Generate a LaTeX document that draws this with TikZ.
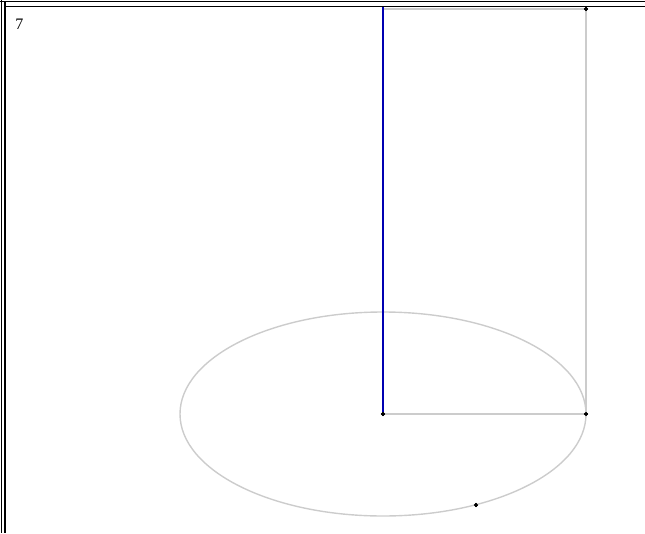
\documentclass[tikz,border=0pt]{standalone}
\usepackage{tikz}
\usepackage{fontspec}
\setmainfont{Liberation Serif}

\begin{document}
\begin{tikzpicture}[
	x=1pt,y=-1pt,
	closedpt/.style={circle,draw,fill,inner sep=0pt,minimum size=3.5pt},
	guide/.style={draw=black!20,line width=1.4pt}
]
	\useasboundingbox (0,0) rectangle (645,533);

	% frame
	\draw[line width=1.2pt] (1.2,0) -- (1.2,533);
	\draw[line width=1.2pt] (5,1.2) -- (5,533);
	\draw[line width=1.2pt] (0,1.2) -- (645,1.2);
	\draw[line width=1.2pt] (5,6.5) -- (645,6.5);

	\node[font=\fontsize{16}{18}\selectfont] at (19.5,24.5) (num) {7};

	\coordinate (top) at (383,7);
	\node[closedpt] at (383,414) (c) {};
	\node[closedpt] at (586,414) (r) {};
	\node[closedpt] at (586,9) (tr) {};
	\node[closedpt] at (476,505) (p) {};
	\coordinate (tl) at (383,9);

	\draw[guide] (383,414) ellipse (203 and 102);
	\draw[guide] (c) -- (r) -- (tr) -- (tl);
	\draw[blue!70!black,line width=1.5pt] (c) -- (top);

	\node[closedpt] at (c) {};
	\node[closedpt] at (r) {};
	\node[closedpt] at (tr) {};
	\node[closedpt] at (p) {};

\end{tikzpicture}
\end{document}
